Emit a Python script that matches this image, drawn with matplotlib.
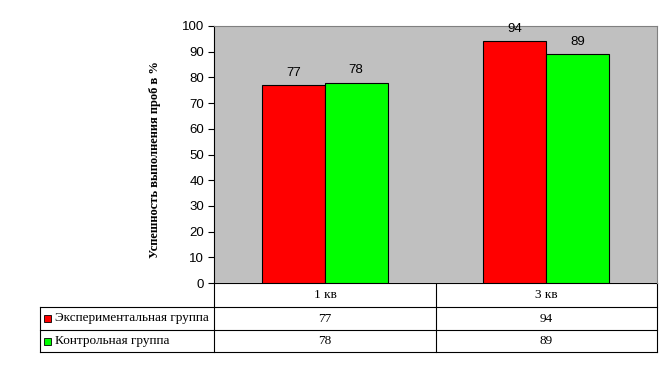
import matplotlib
matplotlib.use("Agg")
import matplotlib.pyplot as plt
from matplotlib.patches import Rectangle
import numpy as np

# ---------- данные ----------
categories = ["1 кв", "3 кв"]
series_names = ["Экспериментальная группа", "Контрольная группа"]
exp_vals = [77, 94]
ctrl_vals = [78, 89]
colors = ["#FF0000", "#00FF00"]
yticks = list(range(0, 101, 10))
ylabel = "Успешность выполнения проб в %"

W, H = 672, 366
fig = plt.figure(figsize=(W / 100, H / 100), dpi=100)

# plot area in pixels
px_l, px_r, px_t, px_b = 214, 657, 26, 283
ax = fig.add_axes([px_l / W, 1 - px_b / H, (px_r - px_l) / W, (px_b - px_t) / H])
ax.set_facecolor("#C0C0C0")
ax.set_xlim(0, len(categories))
ax.set_ylim(0, 100)

bw = 63 / 222
x = np.arange(len(categories)) + 0.5
for vals, off, col in [(exp_vals, -bw / 2, colors[0]), (ctrl_vals, bw / 2, colors[1])]:
    bars = ax.bar(x + off, vals, width=bw, color=col, edgecolor="black", linewidth=0.8, zorder=2)
    for b, v in zip(bars, vals):
        ax.text(b.get_x() + b.get_width() / 2, v + 2.5, str(v), ha="center", va="bottom",
                fontsize=9.5, family="Liberation Sans")

ax.set_xticks([])
ax.set_yticks(yticks)
ax.set_yticklabels([str(t) for t in yticks], fontsize=9.5, family="Liberation Sans")
ax.tick_params(axis="y", direction="out", length=4, width=0.8, pad=3)
for s in ["top", "right"]:
    ax.spines[s].set_color("#808080")
ax.spines["bottom"].set_visible(False)
ax.spines["left"].set_color("black")

fig.text(155 / W, 1 - 160 / H, ylabel, rotation=90, ha="center", va="center",
         fontsize=9, fontweight="bold", family="Liberation Serif")

# ---------- таблица данных ----------
tab = fig.add_axes([0, 0, 1, 1], zorder=-1)
tab.set_xlim(0, W)
tab.set_ylim(H, 0)
tab.axis("off")
col_x = [214, 436, 657]
row_y = [283, 307, 330, 352]
lw = 0.8
# вертикальные линии
tab.plot([40, 40], [307, 352], color="black", lw=lw)
tab.plot([214, 214], [283, 352], color="black", lw=lw)
tab.plot([436, 436], [283, 352], color="black", lw=lw)
tab.plot([657, 657], [283, 352], color="black", lw=lw)
# горизонтальные линии
tab.plot([214, 657], [283, 283], color="black", lw=lw)
for yy in row_y[1:]:
    tab.plot([40, 657], [yy, yy], color="black", lw=lw)

for i, cat in enumerate(categories):
    cx = (col_x[i] + col_x[i + 1]) / 2
    tab.text(cx, (row_y[0] + row_y[1]) / 2, cat, ha="center", va="center",
             fontsize=9.5, family="Liberation Serif")
for r, (name, vals, col) in enumerate(zip(series_names, [exp_vals, ctrl_vals], colors)):
    cy = (row_y[r + 1] + row_y[r + 2]) / 2
    tab.add_patch(Rectangle((44, cy - 3.5), 7, 7, facecolor=col, edgecolor="black", lw=0.6))
    tab.text(55, cy, name, ha="left", va="center", fontsize=9.5, family="Liberation Serif")
    for i, v in enumerate(vals):
        cx = (col_x[i] + col_x[i + 1]) / 2
        tab.text(cx, cy, str(v), ha="center", va="center", fontsize=9.5, family="Liberation Serif")

fig.savefig("out.png", dpi=100, facecolor="white")
